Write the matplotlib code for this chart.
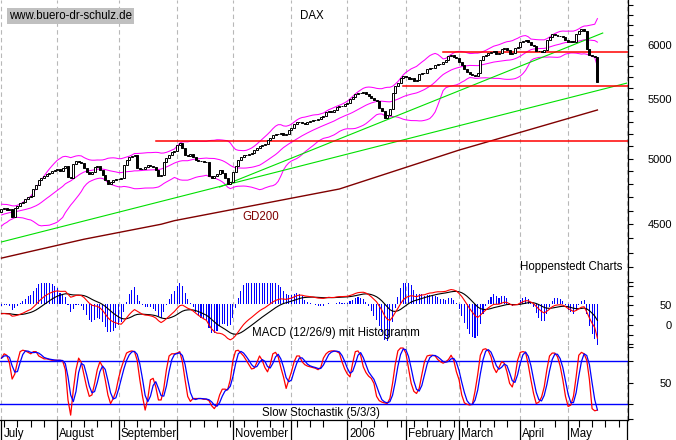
import matplotlib
matplotlib.use('Agg')
import matplotlib.pyplot as plt
import matplotlib.transforms as mtransforms
from matplotlib.ticker import FixedLocator, NullFormatter
import numpy as np
import pandas as pd

plt.rcParams['font.family'] = ['Liberation Sans', 'DejaVu Sans']
plt.rcParams['font.size'] = 8

# Xetra trading days shown on the chart
holidays = pd.to_datetime(['2005-12-26', '2006-04-14', '2006-04-17', '2006-05-01'])
days = pd.bdate_range('2005-07-01', '2006-06-01')
days = days[~days.isin(holidays)]

# DAX closes June 2005, only used to warm up the indicators
warmup = [4460, 4470, 4487, 4475, 4510, 4500, 4515, 4530, 4560, 4570, 4580,
          4590, 4600, 4590, 4600, 4620, 4610, 4570, 4550, 4580, 4600, 4586]

# DAX closes 1 July 2005 - 17 May 2006
closes = [4611, 4619, 4604, 4611, 4551, 4619, 4634, 4656, 4664, 4687,
          4702, 4709, 4762, 4793, 4831, 4847, 4863, 4879, 4886, 4902,
          4910, 4918, 4902, 4926, 4942, 4855, 4847, 4957, 4981, 4973,
          4965, 4926, 4894, 4879, 4894, 4934, 4942, 4910, 4871, 4831,
          4801, 4816, 4831, 4839, 4839, 4847, 4950, 4989, 5013, 5021,
          5029, 4926, 4918, 4918, 4934, 4950, 4942, 4934, 4910, 4863,
          4871, 4973, 5005, 5029, 5054, 5062, 5111, 5128, 5087, 5029,
          5021, 5037, 5013, 4989, 4981, 4981, 4973, 4973, 4863, 4847,
          4863, 4879, 4910, 4886, 4847, 4801, 4816, 4894, 4942, 4989,
          5013, 5029, 5029, 5037, 5046, 5070, 5087, 5103, 5111, 5119,
          5152, 5169, 5194, 5202, 5202, 5211, 5194, 5202, 5236, 5253,
          5286, 5303, 5303, 5295, 5286, 5303, 5312, 5320, 5320, 5328,
          5345, 5354, 5389, 5397, 5389, 5406, 5432, 5441, 5441, 5458,
          5467, 5501, 5519, 5546, 5555, 5555, 5564, 5546, 5528, 5510,
          5493, 5484, 5424, 5397, 5337, 5363, 5415, 5555, 5618, 5645,
          5690, 5709, 5699, 5681, 5690, 5663, 5672, 5727, 5736, 5736,
          5773, 5783, 5783, 5811, 5820, 5820, 5838, 5857, 5894, 5904,
          5885, 5875, 5838, 5811, 5773, 5746, 5727, 5718, 5709, 5736,
          5857, 5894, 5904, 5923, 5933, 5942, 5914, 5923, 5962, 5971,
          5952, 5914, 5923, 5971, 5981, 6029, 6038, 6048, 6029, 6000,
          5990, 5942, 5942, 5933, 5952, 6048, 6078, 6107, 6097, 6087,
          6087, 6078, 6048, 6029, 6038, 6029, 6107, 6137, 6157, 6137,
          5962, 5904, 5894, 5885, 5654]

# slow stochastic %K (5/3/3), read day by day
slow_k = [84, 90, 88, 77, 55, 62, 79, 93, 95, 94,
          92, 90, 93, 93, 87, 85, 83, 83, 82, 81,
          81, 81, 81, 80, 68, 26, 5, 40, 68, 84,
          78, 61, 44, 31, 33, 49, 68, 79, 72, 54,
          33, 21, 28, 38, 56, 70, 81, 91, 93, 94,
          93, 81, 54, 31, 12, 28, 54, 56, 44, 26,
          26, 42, 68, 87, 90, 90, 91, 93, 79, 54,
          31, 24, 28, 28, 28, 28, 27, 27, 25, 18,
          14, 20, 33, 41, 41, 40, 54, 81, 94, 95,
          91, 87, 81, 75, 69, 70, 78, 87, 81, 71,
          65, 75, 90, 92, 86, 71, 58, 42, 54, 65,
          79, 87, 87, 79, 75, 73, 72, 71, 70, 68,
          71, 84, 90, 93, 94, 94, 93, 91, 79, 69,
          62, 58, 77, 93, 94, 88, 72, 64, 59, 56,
          49, 31, 25, 23, 22, 21, 28, 49, 75, 94,
          98, 98, 91, 70, 49, 38, 35, 42, 61, 79,
          87, 88, 88, 87, 82, 79, 77, 79, 82, 88,
          81, 65, 54, 33, 22, 20, 19, 20, 38, 61,
          88, 96, 97, 94, 86, 71, 64, 71, 79, 77,
          65, 49, 44, 58, 81, 92, 93, 92, 75, 54,
          35, 21, 23, 30, 44, 68, 87, 91, 91, 86,
          73, 54, 31, 17, 19, 31, 58, 88, 92, 90,
          81, 54, 14, 11, 12]

# 200 day average, read at a few days
gd200_day = [0, 31, 60, 65, 127, 172, 224]
gd200 = [4262, 4393, 4500, 4526, 4762, 5069, 5406]

# horizontal marks and trend lines
levels = [5140, 5615, 5930]
levels_from = [58, 151, 166]
trend_day = [[0, 235], [82, 226]]
trend_val = [[4374, 5644], [4777, 6117]]

month_names = ['July', 'August', 'September', '', 'November', '', '2006',
               'February', 'March', 'April', 'May', '']

# indicators
allc = pd.Series(warmup + closes, dtype=float)
opens = allc.shift(1).fillna(allc.iloc[0])
mid = allc.rolling(20).mean()
sd = allc.rolling(20).std(ddof=0)
ema12 = allc.ewm(span=12, adjust=False).mean()
ema26 = allc.ewm(span=26, adjust=False).mean()
macd = ema12 - ema26
sig = macd.ewm(span=9, adjust=False).mean()
slow_d = pd.Series(slow_k, dtype=float).rolling(3, min_periods=1).mean()

nw = len(warmup)
x = np.arange(len(closes))
c = allc.values[nw:]
o = opens.values[nw:]

months = pd.Series(range(len(days)), index=days)
month_idx = months.groupby([days.year, days.month]).first().values
monday_idx = np.where(days.dayofweek == 0)[0]

W, H = 676, 440
fig = plt.figure(figsize=(W / 100, H / 100), dpi=100)


def box(top, bottom):
    return [0, 1 - bottom / H, 628 / W, (bottom - top) / H]


ax1 = fig.add_axes(box(0, 283))
ax2 = fig.add_axes(box(283, 345), sharex=ax1)
ax3 = fig.add_axes(box(345, 420), sharex=ax1)

for ax in (ax1, ax2, ax3):
    for s in ('left', 'top', 'bottom'):
        ax.spines[s].set_visible(False)
    ax.spines['right'].set_linewidth(0.9)
    ax.yaxis.tick_right()
    ax.tick_params(axis='y', which='both', direction='out', length=3.6,
                   width=0.8, pad=28, labelsize=8)
    for m in month_idx:
        ax.axvline(m, color='#b8b8b8', lw=0.8, ls=(0, (4, 3)), zorder=0)
    ax.set_facecolor('none')

ax1.tick_params(axis='x', which='both', bottom=False, labelbottom=False)
ax2.tick_params(axis='x', which='both', bottom=False, labelbottom=False)

# price panel
ax1.set_yscale('log')
ax1.set_ylim(4095, 6450)
ax1.set_yticks([4500, 5000, 5500, 6000], ['4500', '5000', '5500', '6000'])
ax1.yaxis.set_minor_locator(FixedLocator(range(4100, 6500, 100)))
ax1.yaxis.set_minor_formatter(NullFormatter())

ax1.plot(x, mid.values[nw:], color='#ff00ff', lw=0.75)
ax1.plot(x, (mid + 2 * sd).values[nw:], color='#ff00ff', lw=0.75)
ax1.plot(x, (mid - 2 * sd).values[nw:], color='#ff00ff', lw=0.75)
ax1.plot(gd200_day, gd200, color='#800000', lw=1)
for d, v in zip(trend_day, trend_val):
    ax1.plot(d, v, color='#00e000', lw=0.8)
for lv, d0 in zip(levels, levels_from):
    ax1.plot([d0, 236], [lv, lv], color='#ff0000', lw=1.1)

rise = c >= o
ax1.bar(x[rise], (c - o)[rise], bottom=o[rise], width=0.75,
        facecolor='white', edgecolor='black', lw=0.7, zorder=3)
ax1.bar(x[~rise], (o - c)[~rise], bottom=c[~rise], width=0.75,
        facecolor='black', edgecolor='black', lw=0.7, zorder=3)

# MACD panel
ax2.set_ylim(-51.3, 107.7)
ax2.set_yticks([0, 50], ['0', '50'])
ax2.yaxis.set_minor_locator(FixedLocator([-50, -25, 25, 75, 100]))
ax2.bar(x, 3 * (macd - sig).values[nw:], bottom=53, width=0.4, color='#0000ff')
ax2.plot(x, sig.values[nw:], color='black', lw=0.8)
ax2.plot(x, macd.values[nw:], color='#ff0000', lw=0.8)

# stochastic panel
ax3.set_ylim(-1.75, 102.2)
ax3.set_yticks([50], ['50'])
ax3.yaxis.set_minor_locator(FixedLocator([0, 20, 80, 100]))
ax3.axhline(80, color='#0000ff', lw=1)
ax3.axhline(20, color='#0000ff', lw=1)
ax3.plot(x, slow_k, color='#ff0000', lw=0.9)
ax3.plot(x, slow_d, color='#0000ff', lw=0.9)

for ax in (ax1, ax2, ax3):
    for t in ax.get_yticklabels():
        t.set_horizontalalignment('right')

# date axis
ax3.spines['bottom'].set_visible(True)
ax3.spines['bottom'].set_linewidth(0.9)
ax3.set_xticks(month_idx)
ax3.xaxis.set_minor_locator(FixedLocator(monday_idx))
ax3.tick_params(axis='x', which='major', direction='out', length=14.4,
                width=0.9, labelbottom=False)
ax3.tick_params(axis='x', which='minor', direction='out', length=5, width=0.8)
ax1.set_xlim(-0.56, 235.5)

tr = mtransforms.blended_transform_factory(ax3.transData, fig.transFigure)
for m, name in zip(month_idx, month_names):
    ax3.text(m + 0.7, 1 - 434 / H, name, transform=tr, ha='left', va='center',
             fontsize=8.3)


def ftext(px, py, s, **kw):
    fig.text(px / W, 1 - py / H, s, va='center', **kw)


ftext(9, 16, 'www.buero-dr-schulz.de', fontsize=8.3,
      bbox=dict(facecolor='#c0c0c0', edgecolor='none', pad=1.2))
ftext(312, 16, 'DAX', ha='center', fontsize=8.3)
ftext(242, 217, 'GD200', color='#800000', fontsize=8.3)
ftext(520, 267, 'Hoppenstedt Charts', fontsize=8.3)
ftext(252, 333, 'MACD (12/26/9) mit Histogramm', fontsize=8.3)
ftext(262, 413, 'Slow Stochastik (5/3/3)', fontsize=8.3)

fig.savefig('out.png', dpi=100)
